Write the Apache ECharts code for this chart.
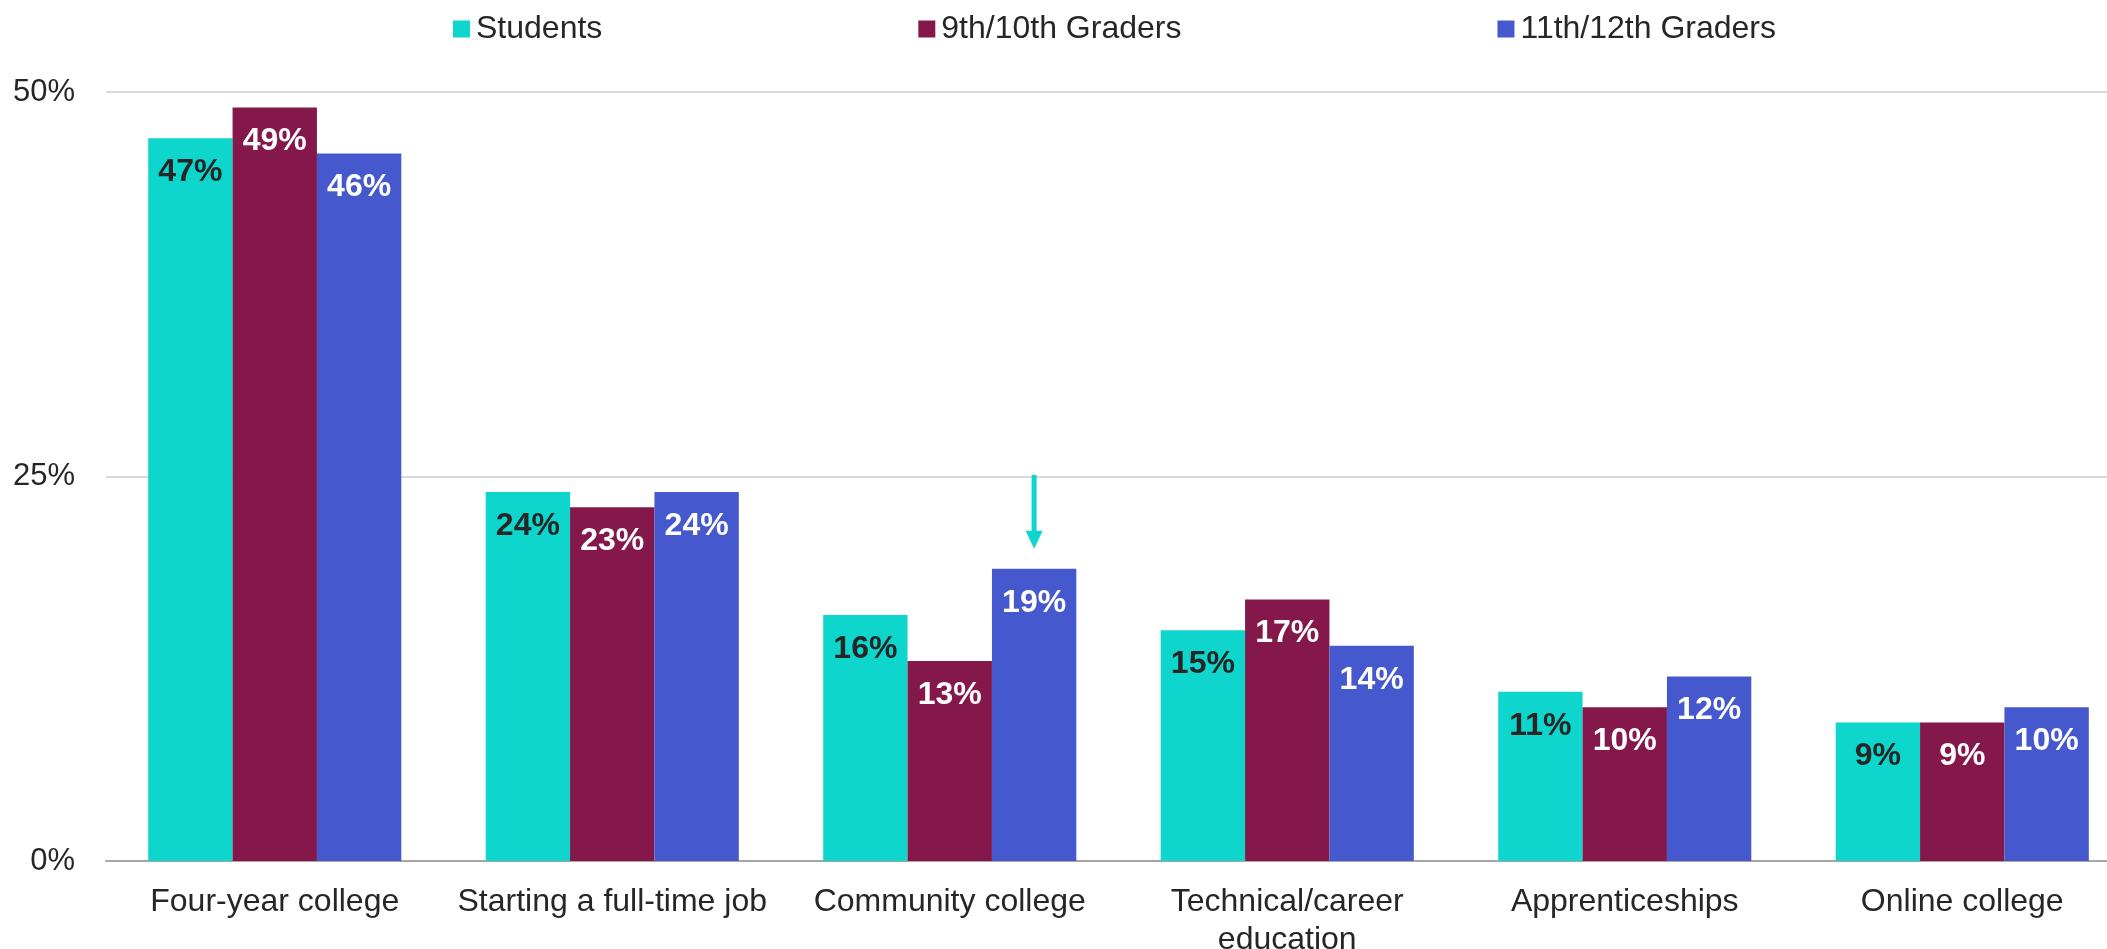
<!DOCTYPE html>
<html>
<head>
<meta charset="utf-8">
<script src="https://cdn.jsdelivr.net/npm/echarts@6/dist/echarts.min.js"></script>
<style>
html,body{margin:0;padding:0;background:#fff;overflow:hidden;width:2107px;height:949px;}
#chart{width:2131px;height:949px;}
</style>
</head>
<body>
<div id="chart"></div>
<script>
const categories = ["Four-year college", "Starting a full-time job", "Community college", "Technical/career\neducation", "Apprenticeships", "Online college"];
const seriesNames = ["Students", "9th/10th Graders", "11th/12th Graders"];
const students = [47, 24, 16, 15, 11, 9];
const grade9_10 = [49, 23, 13, 17, 10, 9];
const grade11_12 = [46, 24, 19, 14, 12, 10];
const yTicks = [0, 25, 50];
// annotation arrow: [category index, series offset index, from value, to value]
const arrowData = [[2, 1, 25.1, 20.3]];

const colors = ["#0ED6CC", "#84184B", "#4658CD"];
const FONT = "'Liberation Sans', Arial, sans-serif";

function mkSeries(name, data, color, labelColor) {
  return {
    name: name,
    type: 'bar',
    data: data,
    barGap: '0%',
    barCategoryGap: '25%',
    itemStyle: { color: color },
    label: {
      show: true,
      position: 'insideTop',
      distance: 18,
      formatter: '{c}%',
      color: labelColor,
      fontFamily: FONT,
      fontWeight: 'bold',
      fontSize: 32
    },
    emphasis: { disabled: true }
  };
}

const chart = echarts.init(document.getElementById('chart'), null, { renderer: 'canvas' });
chart.setOption({
  animation: false,
  backgroundColor: '#ffffff',
  textStyle: { fontFamily: FONT },
  legend: {
    data: seriesNames,
    left: 453,
    top: 13,
    padding: 0,
    itemWidth: 17,
    itemHeight: 17,
    itemGap: 316,
    icon: 'rect',
    textStyle: { fontFamily: FONT, fontSize: 32, color: '#262626', padding: [0, 0, 0, 1] }
  },
  grid: { left: 106, right: 0, top: 92, bottom: 88, containLabel: false, outerBoundsMode: 'none' },
  xAxis: {
    type: 'category',
    data: categories,
    axisTick: { show: false },
    axisLine: { lineStyle: { color: '#a6a6a6', width: 2 } },
    axisLabel: { fontFamily: FONT, fontSize: 32, color: '#262626', margin: 22, lineHeight: 38, interval: 0 }
  },
  yAxis: {
    type: 'value',
    min: yTicks[0],
    max: yTicks[yTicks.length - 1],
    interval: yTicks[1] - yTicks[0],
    axisLabel: { formatter: '{value}%', fontFamily: FONT, fontSize: 31, color: '#262626', margin: 31 },
    axisLine: { show: false },
    axisTick: { show: false },
    splitLine: { lineStyle: { color: '#d9d9d9', width: 2 } }
  },
  series: [
    mkSeries(seriesNames[0], students, colors[0], '#262626'),
    mkSeries(seriesNames[1], grade9_10, colors[1], '#ffffff'),
    mkSeries(seriesNames[2], grade11_12, colors[2], '#ffffff'),
    {
      type: 'custom',
      silent: true,
      z: 10,
      data: arrowData,
      encode: { x: 0, y: 2 },
      renderItem: function (params, api) {
        const top = api.coord([api.value(0), api.value(2)]);
        const tip = api.coord([api.value(0), api.value(3)]);
        const band = api.size([1, 0])[0];
        const x = top[0] + api.value(1) * band * 0.25;
        const headH = 18, headW = 17, shaftW = 5;
        return {
          type: 'group',
          children: [
            { type: 'rect', shape: { x: x - shaftW / 2, y: top[1], width: shaftW, height: tip[1] - top[1] - headH + 1 }, style: { fill: colors[0] } },
            { type: 'polygon', shape: { points: [[x - headW / 2, tip[1] - headH], [x + headW / 2, tip[1] - headH], [x, tip[1]]] }, style: { fill: colors[0] } }
          ]
        };
      }
    }
  ]
});
</script>
</body>
</html>
